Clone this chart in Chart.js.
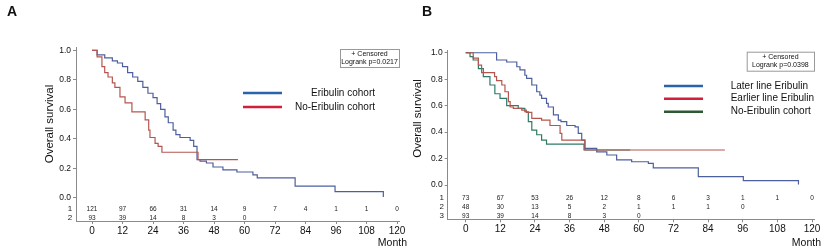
<!DOCTYPE html>
<html>
<head>
<meta charset="utf-8">
<script src="https://cdn.jsdelivr.net/npm/chart.js@4"></script>
<style>
  body { margin: 0; background: #fff; }
  .wrap { position: relative; width: 825px; height: 252px; }
  .panel { position: absolute; top: 0; height: 252px; }
  #pa { left: 0; width: 410px; }
  #pb { left: 410px; width: 415px; }
</style>
</head>
<body>
<div class="wrap">
  <div class="panel" id="pa"><canvas id="chartA" width="410" height="252"></canvas></div>
  <div class="panel" id="pb"><canvas id="chartB" width="415" height="252"></canvas></div>
</div>
<script>
// months on the x axis and at-risk times
const months = [0, 12, 24, 36, 48, 60, 72, 84, 96, 108, 120];
const survTicks = [0, 0.2, 0.4, 0.6, 0.8, 1.0];

// Panel A: [month, survival] step points
const eribulinA = [[0,1],[2,0.97],[5,0.95],[8,0.93],[10,0.915],[12,0.89],[14,0.85],[16,0.82],[18,0.79],[20,0.75],[22,0.71],[24,0.68],[25.6,0.64],[27,0.6],[28.7,0.55],[30,0.51],[31.9,0.46],[33,0.43],[34.6,0.41],[38.6,0.39],[40,0.35],[41.3,0.26],[42.5,0.25],[45,0.237],[47.6,0.21],[51.5,0.19],[57,0.176],[63.3,0.156],[65,0.136],[79.9,0.08],[95.6,0.043],[114.5,0.043],[114.6,0.007]];
const noEribulinA = [[0,1],[2,0.956],[3.9,0.89],[5,0.85],[6.3,0.82],[8,0.78],[9,0.75],[11,0.685],[13,0.644],[15.7,0.583],[20.9,0.53],[22.3,0.46],[22.8,0.41],[24.8,0.37],[26,0.35],[27.5,0.31],[41.7,0.26],[57.4,0.26]];
const riskA1 = [121, 97, 66, 31, 14, 9, 7, 4, 1, 1, 0];
const riskA2 = [93, 39, 14, 8, 3, 0];

// Panel B
const laterB = [[0,1],[9,1],[10.7,0.945],[14.2,0.93],[17.7,0.894],[18.8,0.87],[20.5,0.83],[21.1,0.806],[22.9,0.756],[24.6,0.705],[25.7,0.68],[26.3,0.655],[28,0.617],[28.6,0.59],[30.4,0.53],[32.1,0.49],[33,0.48],[35,0.45],[37.9,0.44],[39,0.39],[40.2,0.34],[41.3,0.277],[45.4,0.25],[48.9,0.227],[52.3,0.19],[57.5,0.176],[63.3,0.164],[65,0.13],[80.6,0.063],[96.2,0.033],[115.2,0.033],[115.3,0.005]];
const earlierB = [[0,1],[2.6,0.96],[4.4,0.907],[5.5,0.85],[10,0.82],[10.7,0.79],[12.5,0.756],[13.6,0.705],[14.8,0.63],[15.4,0.59],[16.5,0.58],[19.4,0.567],[21,0.55],[22.9,0.504],[26.3,0.49],[29.2,0.45],[32.7,0.39],[33.3,0.34],[41.3,0.265],[89.8,0.265]];
const noEribulinB = [[0,1],[1.5,0.97],[2.6,0.945],[4.4,0.88],[6.1,0.82],[8.4,0.756],[10.1,0.69],[11.9,0.655],[14.2,0.6],[18.2,0.58],[20.5,0.554],[21.7,0.48],[22.9,0.415],[24.6,0.38],[26.3,0.34],[28,0.31],[41,0.265],[57,0.265]];
const riskB1 = [73, 67, 53, 26, 12, 8, 6, 3, 1, 1, 0];
const riskB2 = [48, 30, 13, 5, 2, 1, 1, 1, 0];
const riskB3 = [93, 39, 14, 8, 3, 0];

const FONT = '"Liberation Sans", Arial, sans-serif';

function toPts(arr) { return arr.map(p => ({ x: p[0], y: p[1] })); }

function makeLine(label, pts, color) {
  return {
    label: label,
    data: toPts(pts),
    borderColor: color,
    borderWidth: 1.2,
    pointRadius: 0,
    stepped: 'before',
    fill: false
  };
}

// draws panel letter, y title, legend, logrank box, at-risk table, "Month"
const decor = {
  id: 'decor',
  afterDraw(chart) {
    const o = chart.options.plugins.decor;
    const ctx = chart.ctx;
    const xs = chart.scales.x, ys = chart.scales.y;
    ctx.save();
    ctx.fillStyle = '#111';
    ctx.font = 'bold 14px ' + FONT;
    ctx.textAlign = 'left';
    ctx.textBaseline = 'middle';
    ctx.fillText(o.letter, o.letterX, 12);

    // y title
    ctx.save();
    ctx.translate(o.titleX, o.titleY);
    ctx.rotate(-Math.PI / 2);
    ctx.textAlign = 'center';
    ctx.font = '11.5px ' + FONT;
    ctx.fillText('Overall survival', 0, 0);
    ctx.restore();

    // at-risk table
    ctx.font = '6.5px ' + FONT;
    ctx.fillStyle = '#222';
    o.risk.forEach((row, r) => {
      const y = ys.getPixelForValue(o.riskLevels[r]);
      ctx.textAlign = 'center';
      row.forEach((n, i) => ctx.fillText(String(n), xs.getPixelForValue(months[i]), y));
      ctx.font = '8px ' + FONT;
      ctx.fillText(String(r + 1), chart.chartArea.left - 6, y);
      ctx.font = '6.5px ' + FONT;
    });

    // Month
    ctx.font = '10.5px ' + FONT;
    ctx.fillStyle = '#111';
    ctx.textAlign = 'right';
    ctx.fillText('Month', o.monthX, 243);

    // legend
    ctx.font = '10px ' + FONT;
    o.legend.forEach(l => {
      ctx.strokeStyle = l.color;
      ctx.lineWidth = 2.5;
      ctx.beginPath();
      ctx.moveTo(o.legX1, l.y);
      ctx.lineTo(o.legX2, l.y);
      ctx.stroke();
      ctx.fillStyle = '#111';
      ctx.textAlign = o.legAlign;
      ctx.fillText(l.text, o.legTextX, l.y);
    });

    // logrank box
    const b = o.box;
    ctx.strokeStyle = '#999';
    ctx.lineWidth = 1;
    ctx.strokeRect(b.x + 0.5, b.y + 0.5, b.w, b.h);
    ctx.font = '7px ' + FONT;
    ctx.fillStyle = '#111';
    ctx.textAlign = 'center';
    ctx.fillText('+ Censored', b.x + b.w / 2, b.y + 5);
    ctx.fillText(b.text, b.x + b.w / 2, b.y + 13.5);
    ctx.restore();
  }
};

function makeChart(id, datasets, p) {
  const grey = '#8a8a8a';
  return new Chart(document.getElementById(id), {
    type: 'line',
    data: { datasets: datasets },
    plugins: [decor],
    options: {
      responsive: false,
      animation: false,
      layout: { padding: { top: p.top, right: p.right, left: 0, bottom: 0 } },
      plugins: { legend: { display: false }, tooltip: { enabled: false }, decor: p.decor },
      scales: {
        x: {
          type: 'linear', min: p.xmin, max: 121,
          afterBuildTicks: s => { s.ticks = months.map(v => ({ value: v })); },
          afterFit: s => { s.height = p.xh; },
          border: { display: true, color: grey },
          grid: { drawOnChartArea: false, drawTicks: true, tickLength: 3, color: grey },
          ticks: { font: { family: FONT, size: 10 }, color: '#111', padding: 1, maxRotation: 0, autoSkip: false }
        },
        y: {
          type: 'linear', min: p.ymin, max: 1.02,
          afterBuildTicks: s => { s.ticks = survTicks.map(v => ({ value: v })); },
          afterFit: s => { s.width = p.yw; },
          border: { display: true, color: grey },
          grid: { drawOnChartArea: false, drawTicks: true, tickLength: 3, color: grey },
          ticks: { font: { family: FONT, size: 8.5 }, color: '#111', padding: 2, callback: v => v.toFixed(1) }
        }
      }
    }
  });
}

makeChart('chartA', [
  makeLine('No-Eribulin cohort', noEribulinA, '#b5564e'),
  makeLine('Eribulin cohort', eribulinA, '#4d5f9e')
], {
  top: 47.5, right: 10.4, xmin: -6.3, ymin: -0.156, xh: 31, yw: 76,
  decor: {
    letter: 'A', letterX: 7, titleX: 50, titleY: 124,
    risk: [riskA1, riskA2], riskLevels: [-0.075, -0.136],
    monthX: 407,
    legX1: 243, legX2: 282, legTextX: 375, legAlign: 'right',
    legend: [
      { text: 'Eribulin cohort', color: '#2a64a8', y: 93 },
      { text: 'No-Eribulin cohort', color: '#d21f3c', y: 107 }
    ],
    box: { x: 340, y: 49, w: 59, h: 18, text: 'Logrank p=0.0217' }
  }
});

makeChart('chartB', [
  makeLine('Earlier line Eribulin', earlierB, '#b5564e'),
  makeLine('No-Eribulin cohort', noEribulinB, '#2f7a66'),
  makeLine('Later line Eribulin', laterB, '#4d5f9e')
], {
  top: 50.1, right: 10.1, xmin: -6.24, ymin: -0.259, xh: 32.7, yw: 37.7,
  decor: {
    letter: 'B', letterX: 12, titleX: 8, titleY: 118.5,
    risk: [riskB1, riskB2, riskB3], riskLevels: [-0.1, -0.166, -0.235],
    monthX: 411,
    legX1: 254, legX2: 293, legTextX: 320.7, legAlign: 'left',
    legend: [
      { text: 'Later line Eribulin', color: '#2a64a8', y: 86 },
      { text: 'Earlier line Eribulin', color: '#d21f3c', y: 98.7 },
      { text: 'No-Eribulin cohort', color: '#2d5a35', y: 111.7 }
    ],
    box: { x: 336.7, y: 51.7, w: 67.3, h: 19, text: 'Logrank p=0.0398' }
  }
});
</script>
</body>
</html>
